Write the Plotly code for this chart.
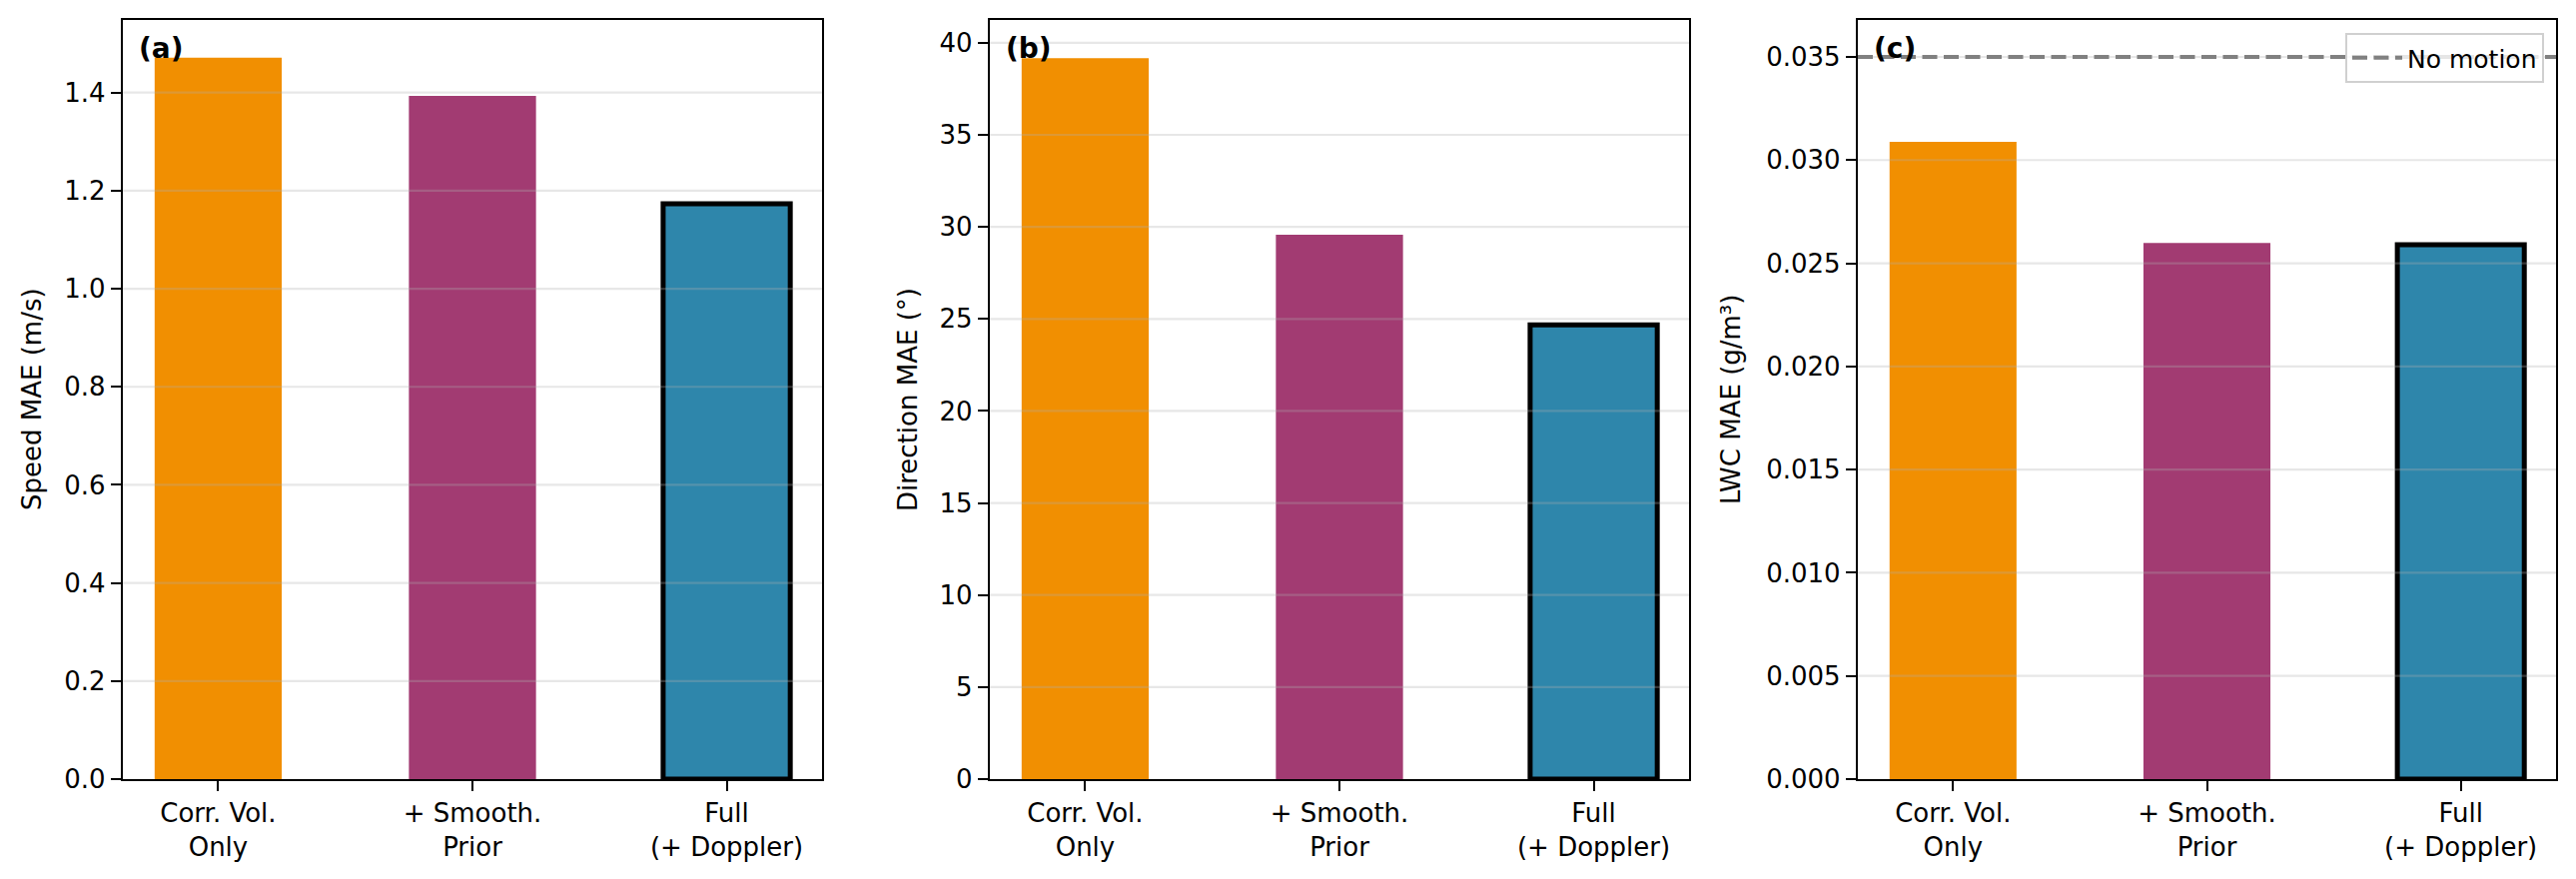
import plotly.graph_objects as go

# ---- data ----
categories = ["Corr. Vol.<br>Only", "+ Smooth.<br>Prior", "Full<br>(+ Doppler)"]
speed_mae = [1.471, 1.393, 1.173]
direction_mae = [39.17, 29.57, 24.68]
lwc_mae = [0.03088, 0.02598, 0.02590]
no_motion_lwc = 0.035

speed_ticks = [0.0, 0.2, 0.4, 0.6, 0.8, 1.0, 1.2, 1.4]
direction_ticks = [0, 5, 10, 15, 20, 25, 30, 35, 40]
lwc_ticks = [0.000, 0.005, 0.010, 0.015, 0.020, 0.025, 0.030, 0.035]

panel_labels = ["(a)", "(b)", "(c)"]
y_titles = ["Speed MAE (m/s)", "Direction MAE (°)", "LWC MAE (g/m³)"]

# ---- style ----
colors = ["#F18F01", "#A23B72", "#2E86AB"]
edge_widths = [0, 0, 5]
W, H = 2579, 880
FONT = "DejaVu Sans"
TICK_SIZE = 26

# axes pixel boxes (left, right); common top/bottom
px_boxes = [(123, 823), (991, 1691), (1860, 2559)]
top_px, bot_px = 20, 780
ytitle_x_px = [32, 909, 1733]
yranges = [[0, 1.548], [0, 41.24], [0, 0.03679]]
tickfmts = [".1f", "d", ".3f"]
ticksets = [speed_ticks, direction_ticks, lwc_ticks]
values = [speed_mae, direction_mae, lwc_mae]

fig = go.Figure()
shapes = []
annotations = []

for i in range(3):
    xa = "x" if i == 0 else f"x{i+1}"
    ya = "y" if i == 0 else f"y{i+1}"
    fig.add_trace(go.Bar(
        x=categories, y=values[i], width=0.5,
        marker=dict(color=colors, line=dict(color="black", width=edge_widths)),
        xaxis=xa, yaxis=ya, showlegend=False,
    ))
    l, r = px_boxes[i]
    dom_x = [l / W, r / W]
    dom_y = [1 - bot_px / H, 1 - top_px / H]
    axis_common = dict(
        showline=True, linecolor="black", linewidth=2.4, mirror=True,
        ticks="outside", ticklen=10, tickwidth=2.2, tickcolor="black",
        tickfont=dict(family=FONT, size=TICK_SIZE, color="black"),
        zeroline=False, showgrid=False, automargin=False,
    )
    fig.update_layout(**{
        ("xaxis" if i == 0 else f"xaxis{i+1}"): dict(
            domain=dom_x, anchor=ya, type="category",
            range=[-0.375, 2.375], **axis_common),
        ("yaxis" if i == 0 else f"yaxis{i+1}"): dict(
            domain=dom_y, anchor=xa, range=yranges[i],
            tickvals=ticksets[i], tickformat=tickfmts[i], **axis_common),
    })
    # gridlines drawn above bars (matplotlib style)
    for t in ticksets[i]:
        if t == 0:
            continue
        shapes.append(dict(
            type="line", xref=f"{xa} domain", yref=ya,
            x0=0, x1=1, y0=t, y1=t, layer="above",
            line=dict(color="rgba(176,176,176,0.3)", width=2.2),
        ))
    # panel label
    annotations.append(dict(
        text=f"<b>{panel_labels[i]}</b>", xref=f"{xa} domain", yref=f"{ya} domain",
        x=0, y=1, xanchor="left", yanchor="top", xshift=14, yshift=-10,
        showarrow=False, font=dict(family=FONT, size=28, color="black"),
    ))
    # y-axis title
    annotations.append(dict(
        text=y_titles[i], xref="paper", yref="paper",
        x=ytitle_x_px[i] / W, y=1 - ((top_px + bot_px) / 2) / H,
        xanchor="center", yanchor="middle", textangle=-90,
        showarrow=False, font=dict(family=FONT, size=TICK_SIZE, color="black"),
    ))

# "No motion" reference line in panel (c)
shapes.append(dict(
    type="line", xref="x3 domain", yref="y3", x0=0, x1=1,
    y0=no_motion_lwc, y1=no_motion_lwc, layer="above",
    line=dict(color="#808080", width=4.2, dash="15px,6.5px"),
    showlegend=True, name="No motion",
))

fig.update_layout(
    template="none",
    width=W, height=H,
    margin=dict(l=0, r=0, t=0, b=0, autoexpand=False),
    paper_bgcolor="white", plot_bgcolor="white",
    font=dict(family=FONT, color="black"),
    shapes=shapes, annotations=annotations,
    showlegend=True,
    legend=dict(
        x=2547 / W, y=1 - 33 / H, xanchor="right", yanchor="top",
        bgcolor="rgba(255,255,255,0.8)", bordercolor="#d0d0d0", borderwidth=2,
        font=dict(family=FONT, size=25, color="black"),
        itemwidth=50,
    ),
)

fig.write_html("out.html")
